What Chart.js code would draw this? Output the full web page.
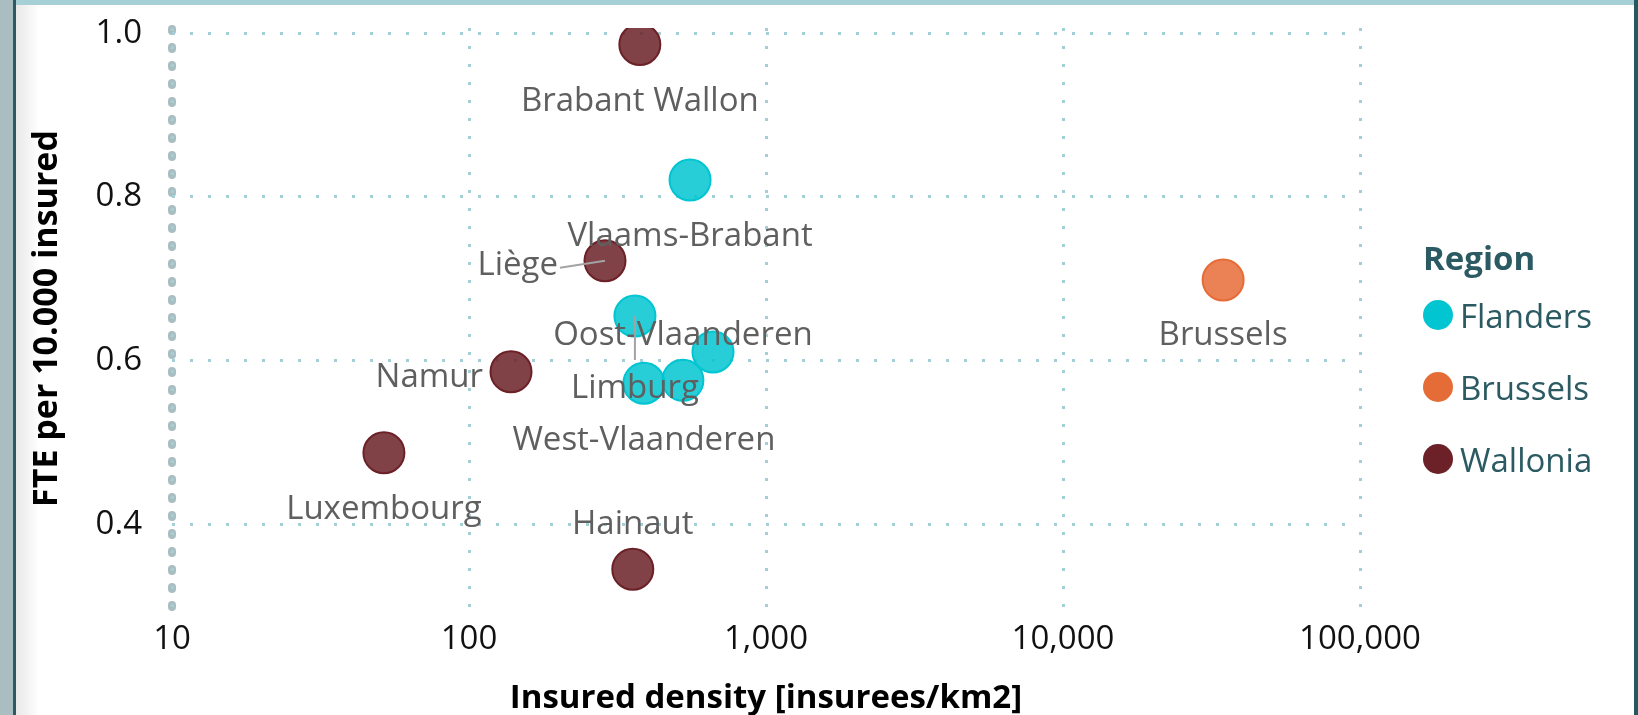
<!DOCTYPE html>
<html><head><meta charset="utf-8">
<script src="https://cdn.jsdelivr.net/npm/chart.js@4.4.1/dist/chart.umd.min.js"></script>
<style>html,body{margin:0;padding:0;background:#fff;overflow:hidden}canvas{display:block}</style>
</head><body>
<canvas id="c" width="1638" height="715"></canvas>
<script>
// ---- data ----
const provinces = ['Antwerpen','Limburg','Oost-Vlaanderen','Vlaams-Brabant','West-Vlaanderen','Brussels','Brabant Wallon','Hainaut','Liège','Luxembourg','Namur'];
const provinceRegion = ['Flanders','Flanders','Flanders','Flanders','Flanders','Brussels','Wallonia','Wallonia','Wallonia','Wallonia','Wallonia'];
const insuredDensity = [663, 362, 525, 555, 388, 34600, 376, 356, 287, 51.7, 138.5];
const ftePer10000 = [0.6105, 0.6545, 0.576, 0.8207, 0.5723, 0.6985, 0.9863, 0.345, 0.7221, 0.4875, 0.5865];
const regions = ['Flanders','Brussels','Wallonia'];
const xTickValues = [10, 100, 1000, 10000, 100000];
const xTickLabels = ['10','100','1,000','10,000','100,000'];
const yTickValues = [0.4, 0.6, 0.8, 1.0];
const yTickLabels = ['0.4','0.6','0.8','1.0'];
const xTitle = 'Insured density [insurees/km2]';
const yTitle = 'FTE per 10.000 insured';
const legendTitle = 'Region';

// ---- styles ----
const FONT = '"Open Sans", "Noto Sans", sans-serif';
const regionColor = {Flanders:'#01c5d1', Brussels:'#e66c37', Wallonia:'#6b2127'};
const regionFill = {Flanders:'rgba(1,197,209,0.85)', Brussels:'rgba(230,108,55,0.85)', Wallonia:'rgba(107,33,39,0.85)'};
const labelStyle = {
  'Brabant Wallon': {align:'center', dx:0, dy:66},
  'Vlaams-Brabant': {align:'center', dx:0, dy:66},
  'Brussels': {align:'center', dx:0, dy:65},
  'Luxembourg': {align:'center', dx:0, dy:66},
  'West-Vlaanderen': {align:'center', dx:0, dy:67},
  'Hainaut': {align:'center', dx:0, dy:-35},
  'Oost-Vlaanderen': {align:'center', dx:0, dy:-35},
  'Limburg': {align:'center', dx:0, dy:82, leader:[0,0,0,44]},
  'Namur': {align:'right', dx:-28, dy:15},
  'Liège': {align:'right', dx:-47, dy:14, leader:[-45,7,0,0]}
};

const datasets = regions.map(r => {
  const pts = [];
  provinces.forEach((p, i) => { if (provinceRegion[i] === r) pts.push({x: insuredDensity[i], y: ftePer10000[i], name: p}); });
  return {
    label: r, data: pts,
    backgroundColor: regionFill[r], borderColor: regionColor[r],
    borderWidth: 2, pointRadius: 20.5, pointHoverRadius: 20.5, clip: 0
  };
});

const framePlugin = {
  id: 'frame',
  beforeDraw(chart) {
    const {ctx, width: W, height: H, chartArea: a} = chart;
    ctx.save();
    ctx.fillStyle = '#ffffff'; ctx.fillRect(0, 0, W, H);
    ctx.fillStyle = '#aabdc1'; ctx.fillRect(0, 0, 13, H);
    ctx.fillStyle = '#2c5a62'; ctx.fillRect(13, 0, 3, H);
    const g = ctx.createLinearGradient(16, 0, 40, 0);
    g.addColorStop(0, 'rgba(0,0,0,0.09)'); g.addColorStop(1, 'rgba(0,0,0,0)');
    ctx.fillStyle = g; ctx.fillRect(16, 0, 24, H);
    ctx.fillStyle = '#a6d0d6'; ctx.fillRect(16, 0, W - 20, 5);
    ctx.fillStyle = '#25595f'; ctx.fillRect(W - 4, 0, 4, H);
    // y axis dotted line
    ctx.strokeStyle = '#a9bec3'; ctx.lineWidth = 8; ctx.lineCap = 'round';
    ctx.setLineDash([2, 16]);
    ctx.beginPath(); ctx.moveTo(a.left, a.top + 1); ctx.lineTo(a.left, a.bottom + 2); ctx.stroke();
    ctx.restore();
  }
};

const labelPlugin = {
  id: 'dlabels',
  afterDatasetsDraw(chart) {
    const ctx = chart.ctx;
    ctx.save();
    ctx.font = '33px ' + FONT;
    ctx.fillStyle = '#5f5f5f';
    ctx.textBaseline = 'alphabetic';
    const leaders = [];
    chart.data.datasets.forEach((ds, di) => {
      const meta = chart.getDatasetMeta(di);
      meta.data.forEach((el, j) => {
        const st = labelStyle[ds.data[j].name];
        if (!st) return;
        ctx.textAlign = st.align;
        ctx.fillText(ds.data[j].name, el.x + st.dx, el.y + st.dy);
        if (st.leader) leaders.push([el.x + st.leader[0], el.y + st.leader[1], el.x + st.leader[2], el.y + st.leader[3]]);
      });
    });
    ctx.strokeStyle = '#a3a3a3'; ctx.lineWidth = 2;
    leaders.forEach(l => { ctx.beginPath(); ctx.moveTo(l[0], l[1]); ctx.lineTo(l[2], l[3]); ctx.stroke(); });
    ctx.restore();
  }
};

const legendPlugin = {
  id: 'legendR',
  afterDraw(chart) {
    const ctx = chart.ctx;
    ctx.save();
    ctx.textBaseline = 'alphabetic'; ctx.textAlign = 'left';
    ctx.fillStyle = '#2b5a62';
    ctx.font = 'bold 33px ' + FONT;
    ctx.fillText(legendTitle, 1423, 270);
    ctx.font = '33px ' + FONT;
    chart.data.datasets.forEach((ds, i) => {
      const base = 328 + i * 72;
      ctx.fillStyle = regionColor[ds.label];
      ctx.beginPath(); ctx.arc(1438, base - 13, 15, 0, Math.PI * 2); ctx.fill();
      ctx.fillStyle = '#2b5a62';
      ctx.fillText(ds.label, 1460, base);
    });
    ctx.restore();
  }
};

new Chart(document.getElementById('c'), {
  type: 'scatter',
  data: {datasets},
  plugins: [framePlugin, labelPlugin, legendPlugin],
  options: {
    responsive: false, animation: false, devicePixelRatio: 1,
    layout: {padding: {left: 0, top: 28, right: 278, bottom: 0}},
    plugins: {legend: {display: false}, tooltip: {enabled: false}},
    scales: {
      x: {
        type: 'logarithmic', min: 10, max: 100000,
        afterBuildTicks(s) { s.ticks = xTickValues.map(v => ({value: v})); },
        afterFit(s) { s.height = 106; s.paddingLeft = 0; s.paddingRight = 0; s.paddingTop = 0; s.paddingBottom = 0; },
        ticks: {padding: 11, color: '#111', font: {family: FONT, size: 33},
          callback(v, i) { return xTickLabels[i]; }, maxRotation: 0, autoSkip: false},
        grid: {color: '#a3d0d6', lineWidth: 3, drawTicks: false},
        border: {display: false, dash: [3, 15]},
        title: {display: true, text: xTitle, color: '#000', font: {family: FONT, size: 33, weight: 'bold'}, padding: {top: 0, bottom: -3}}
      },
      y: {
        type: 'linear', min: 0.2965, max: 1.0065,
        afterBuildTicks(s) { s.ticks = yTickValues.map(v => ({value: v})); },
        afterFit(s) { s.width = 172; s.paddingTop = 0; s.paddingBottom = 0; s.paddingLeft = 0; s.paddingRight = 0; },
        ticks: {padding: 30, color: '#111', font: {family: FONT, size: 33},
          callback(v, i) { return yTickLabels[i]; }, autoSkip: false},
        grid: {color: '#a3d0d6', lineWidth: 3, drawTicks: false},
        border: {display: false, dash: [3, 15]},
        title: {display: true, text: yTitle, color: '#000', font: {family: FONT, size: 34, weight: 'bold'}, padding: {top: 27, bottom: 0}}
      }
    }
  }
});
</script>
</body></html>
